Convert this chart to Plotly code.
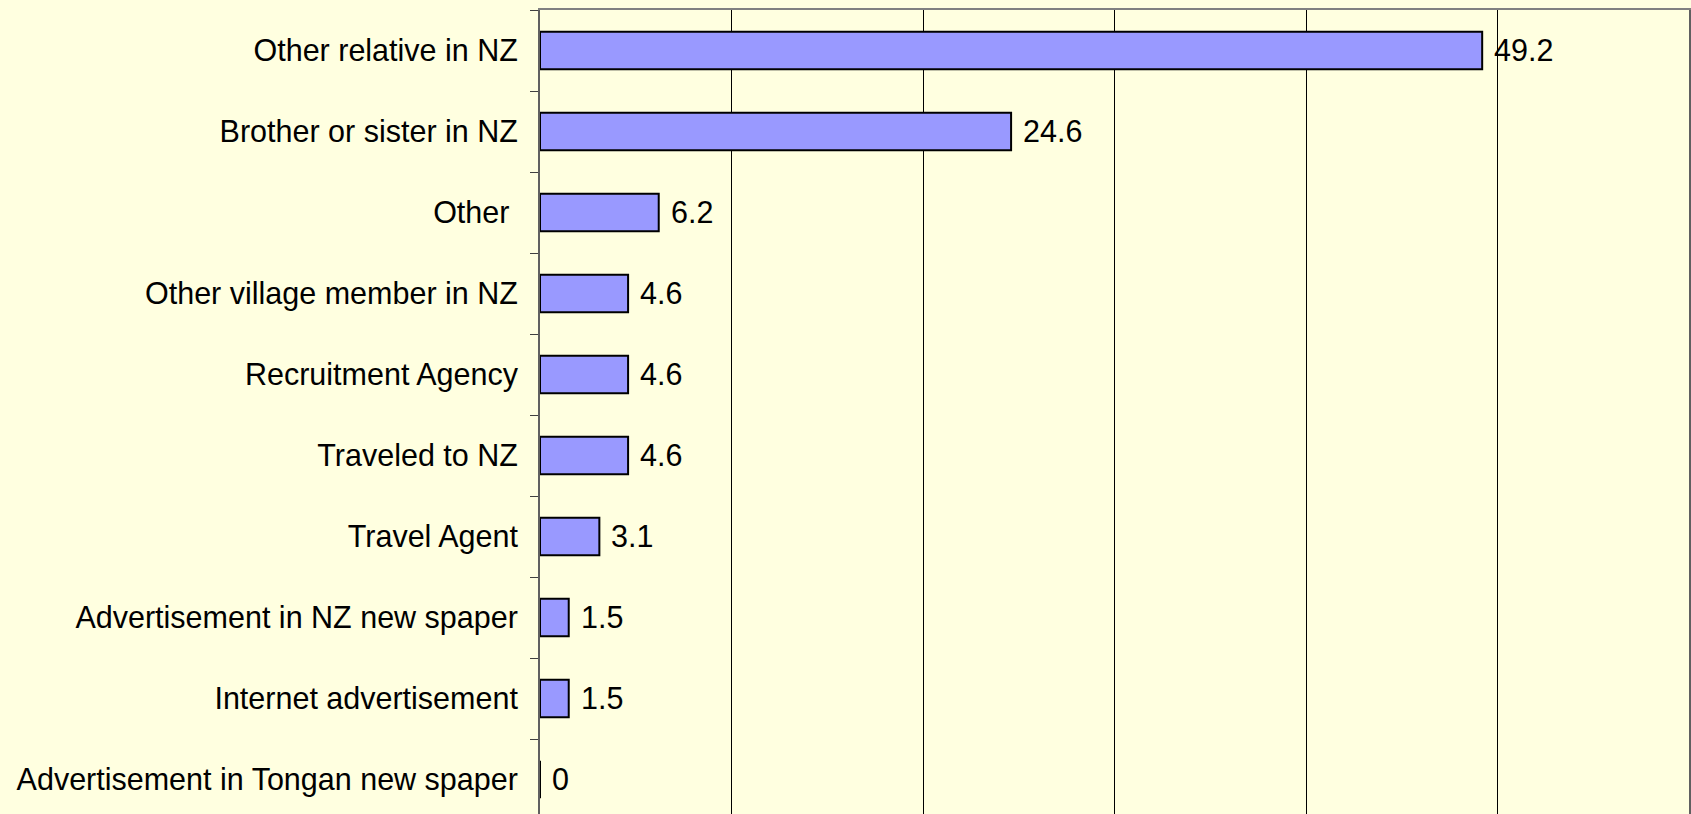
import plotly.graph_objects as go

categories = [
    "Other relative in NZ",
    "Brother or sister in NZ",
    "Other ",
    "Other village member in NZ",
    "Recruitment Agency",
    "Traveled to NZ",
    "Travel Agent",
    "Advertisement in NZ new spaper",
    "Internet advertisement",
    "Advertisement in Tongan new spaper",
]
values = [49.2, 24.6, 6.2, 4.6, 4.6, 4.6, 3.1, 1.5, 1.5, 0]

FONT = "Liberation Sans, Arial, sans-serif"
FSIZE = 30.5
BG = "#FFFFE0"

W, H = 1691, 814
TOP, LEFT, RIGHT, BOTTOM = 10, 540, 2, 0
cat_px = 81.0
plot_h = H - TOP - BOTTOM
y_bottom = -0.5 + plot_h / cat_px

fig = go.Figure()
fig.add_trace(go.Bar(
    x=values, y=categories, orientation="h",
    marker=dict(color="#9999FF", line=dict(color="black", width=2)),
    width=0.46,
    cliponaxis=False,
    hoverinfo="x+y",
))

for c, v in zip(categories, values):
    fig.add_annotation(
        x=v, y=c, xref="x", yref="y", text=f"{v:g}",
        showarrow=False, xanchor="left", yanchor="middle", xshift=10, yshift=1,
        font=dict(family=FONT, size=FSIZE, color="black"),
    )

fig.update_layout(
    width=W, height=H,
    margin=dict(l=LEFT, r=RIGHT, t=TOP, b=BOTTOM, autoexpand=False),
    paper_bgcolor=BG, plot_bgcolor=BG,
    showlegend=False,
    font=dict(family=FONT, size=FSIZE, color="black"),
)
fig.update_xaxes(
    range=[0, 60], dtick=10, side="top",
    showgrid=True, gridcolor="black", gridwidth=1,
    showline=True, linecolor="#808080", linewidth=2,
    showticklabels=False, ticks="", zeroline=False,
)
fig.update_yaxes(
    range=[y_bottom, -0.5],
    tickson="boundaries", ticks="outside", ticklen=8, tickcolor="#404040", tickwidth=1,
    showgrid=False, showline=True, linecolor="#606060", linewidth=2, mirror=True,
    ticklabelstandoff=14,
    tickfont=dict(family=FONT, size=FSIZE, color="black"),
)

fig.write_html(
    "out.html",
    config={"displayModeBar": False},
    post_script="document.body.style.margin='0';document.body.style.background='#FFFFE0';",
)
